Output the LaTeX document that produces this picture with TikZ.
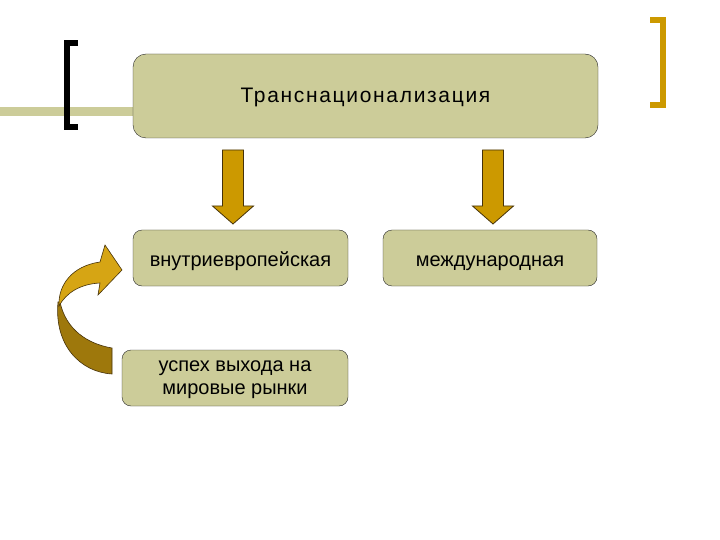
\documentclass[tikz,border=0pt]{standalone}
\usepackage{fontspec}
\setmainfont{Liberation Sans}
\newfontfamily\titleFamily[LetterSpace=8]{Liberation Sans}
\usepackage{tikz}
\usetikzlibrary{positioning}
\definecolor{boxkhaki}{RGB}{204,204,153}
\definecolor{arrowgold}{RGB}{204,153,0}
\definecolor{arrowlight}{RGB}{214,165,20}
\definecolor{arrowdark}{RGB}{158,120,12}
\definecolor{edgebrown}{RGB}{70,50,10}
\newcommand{\boxFont}[0]{\fontsize{20}{23}\selectfont}
\newcommand{\titleFont}[0]{\titleFamily\fontsize{21}{24}\selectfont}
\newcommand{\blockArrowDown}[1]{\draw[edgebrown, fill=arrowgold, line width=0.8pt] (#1) ++(-10.5,0) -- ++(21,0) -- ++(0,56) -- ++(10,0) -- ++(-20.5,18) -- ++(-20.5,-18) -- ++(10,0) -- cycle;}

\begin{document}
\begin{tikzpicture}[x=1pt, y=-1pt]
  \tikzset{box/.style={draw=black!85, fill=boxkhaki, rounded corners=9pt, align=center, inner sep=0pt, font=\boxFont},
    oneline/.style={text height=17.4pt, text depth=0pt}}
  \useasboundingbox (0,0) rectangle (720,540);
  % khaki rule and brackets
  \fill[boxkhaki] (0,107) rectangle (133,116);
  \draw[black, line width=6pt] (78,43.5) -- (66.5,43.5) -- (66.5,127.5) -- (78,127.5);
  \draw[arrowgold, line width=6pt] (650,20) -- (662.5,20) -- (662.5,105) -- (650,105);
  % boxes
  \node[box, oneline, rounded corners=13pt, minimum width=465pt, minimum height=84pt, font=\titleFont, text height=14pt] (trans) at (365.5,96) {Транснационализация};
  \node[box, oneline, minimum width=215pt, minimum height=56pt] (intra) at (240.5,258) {внутриевропейская};
  \node[box, oneline, minimum width=214pt, minimum height=56pt] (inter) at (490,258) {международная};
  \node[box, minimum width=226pt, minimum height=56pt, text depth=-5pt] (success) at (235,378) {успех выхода на\\мировые рынки};
  % block arrows
  \coordinate (arr-1) at (233,150);
  \coordinate (arr-2) at (493,150);
  \blockArrowDown{arr-1}
  \blockArrowDown{arr-2}
  % curved arrow
  \draw[edgebrown, fill=arrowdark, line width=0.6pt] (58,302) .. controls (54,345) and (80,372) .. (112,374) -- (112,348) .. controls (88,344) and (66,330) .. (60,302) -- cycle;
  \draw[edgebrown, fill=arrowlight, line width=0.6pt] (59,306) .. controls (58,285) and (72,266) .. (100,262) -- (105,245) -- (122,270) -- (98,295) -- (100,283) .. controls (80,284) and (66,293) .. (59,306) -- cycle;
\end{tikzpicture}
\end{document}
